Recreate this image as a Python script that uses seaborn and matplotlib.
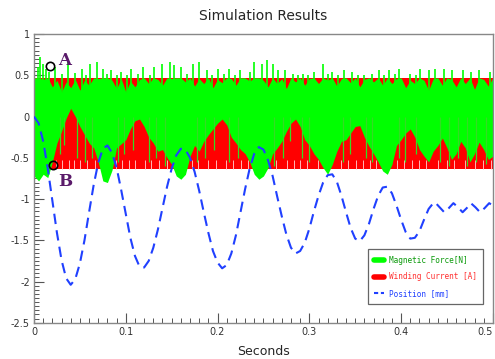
import numpy as np
import matplotlib
matplotlib.use("Agg")
import matplotlib.pyplot as plt
import seaborn as sns
import pandas as pd
from matplotlib.lines import Line2D
import matplotlib.ticker as ticker

sns.set_theme(style="white")
plt.rcParams["font.family"] = ["DejaVu Sans"]

# -------------------------
# Data
# -------------------------
# sampling instants of the force envelopes (s)
FORCE_T = np.linspace(0, 0.5, 101)

# green band: lower / upper edge of the dense magnetic-force trace
FORCE_LOW = [
    -0.72, -0.78, -0.70, -0.74, -0.55, -0.32, -0.18, -0.02, 0.10, 0.00,
    -0.12, -0.22, -0.32, -0.38, -0.55, -0.78, -0.80, -0.65, -0.38, -0.33,
    -0.28, -0.15, -0.05, -0.03, -0.12, -0.25, -0.32, -0.42, -0.40, -0.50,
    -0.58, -0.72, -0.76, -0.70, -0.48, -0.35, -0.42, -0.30, -0.22, -0.15,
    -0.08, -0.03, -0.10, -0.25, -0.32, -0.40, -0.45, -0.55, -0.70, -0.76,
    -0.72, -0.62, -0.45, -0.38, -0.30, -0.18, -0.08, -0.03, -0.12, -0.28,
    -0.35, -0.45, -0.52, -0.62, -0.70, -0.58, -0.42, -0.30, -0.28, -0.20,
    -0.12, -0.11, -0.25, -0.36, -0.45, -0.55, -0.66, -0.70, -0.58, -0.35,
    -0.28, -0.20, -0.15, -0.25, -0.40, -0.48, -0.55, -0.42, -0.35, -0.26,
    -0.38, -0.52, -0.45, -0.30, -0.38, -0.55, -0.45, -0.31, -0.40, -0.52,
    -0.48,
]
FORCE_HIGH = [
    0.47, 0.47, 0.45, 0.47, 0.36, 0.44, 0.30, 0.42, 0.35, 0.45,
    0.32, 0.44, 0.38, 0.47, 0.46, 0.47, 0.47, 0.44, 0.34, 0.46,
    0.30, 0.43, 0.36, 0.45, 0.47, 0.40, 0.47, 0.45, 0.38, 0.47,
    0.46, 0.47, 0.47, 0.42, 0.47, 0.37, 0.46, 0.40, 0.47, 0.35,
    0.45, 0.41, 0.47, 0.46, 0.38, 0.47, 0.47, 0.43, 0.47, 0.47,
    0.44, 0.36, 0.47, 0.40, 0.46, 0.34, 0.47, 0.42, 0.47, 0.38,
    0.46, 0.47, 0.40, 0.47, 0.44, 0.47, 0.37, 0.46, 0.47, 0.41,
    0.47, 0.36, 0.45, 0.47, 0.42, 0.47, 0.38, 0.47, 0.40, 0.46,
    0.47, 0.35, 0.44, 0.40, 0.47, 0.44, 0.32, 0.46, 0.47, 0.38,
    0.47, 0.45, 0.36, 0.47, 0.40, 0.47, 0.33, 0.47, 0.45, 0.37,
    0.47,
]

# force spikes poking above the band
SPIKE_T = [
    0.004, 0.007, 0.010, 0.013, 0.016, 0.023, 0.030, 0.037, 0.045, 0.052,
    0.057, 0.061, 0.069, 0.075, 0.080, 0.084, 0.090, 0.095, 0.101, 0.106,
    0.113, 0.119, 0.126, 0.131, 0.140, 0.148, 0.153, 0.160, 0.167, 0.173,
    0.180, 0.188, 0.194, 0.200, 0.207, 0.213, 0.219, 0.224, 0.235, 0.240,
    0.248, 0.254, 0.260, 0.266, 0.273, 0.282, 0.288, 0.293, 0.299, 0.305,
    0.315, 0.320, 0.325, 0.331, 0.338, 0.347, 0.353, 0.360, 0.368, 0.376,
    0.381, 0.387, 0.393, 0.398, 0.410, 0.416, 0.421, 0.430, 0.437, 0.447,
    0.456, 0.467, 0.476, 0.485, 0.497,
]
SPIKE_TOP = [
    0.60, 0.72, 0.64, 0.58, 0.54, 0.60, 0.52, 0.66, 0.53, 0.58,
    0.51, 0.64, 0.66, 0.58, 0.52, 0.56, 0.51, 0.54, 0.50, 0.58,
    0.52, 0.60, 0.51, 0.60, 0.64, 0.66, 0.62, 0.60, 0.52, 0.64,
    0.66, 0.56, 0.51, 0.58, 0.52, 0.58, 0.51, 0.56, 0.54, 0.66,
    0.64, 0.68, 0.64, 0.56, 0.56, 0.52, 0.50, 0.52, 0.51, 0.54,
    0.64, 0.52, 0.54, 0.51, 0.56, 0.54, 0.51, 0.50, 0.52, 0.56,
    0.51, 0.56, 0.52, 0.58, 0.52, 0.51, 0.58, 0.56, 0.58, 0.58,
    0.56, 0.56, 0.54, 0.56, 0.54,
]

# green streaks reaching down into the red area
DROP_T = [
    0.028, 0.033, 0.047, 0.056, 0.063, 0.092, 0.098, 0.108, 0.125, 0.133,
    0.143, 0.178, 0.186, 0.196, 0.212, 0.222, 0.262, 0.271, 0.279, 0.292,
    0.300, 0.337, 0.344, 0.362, 0.368, 0.398, 0.404, 0.416, 0.442, 0.452,
    0.462, 0.472, 0.482, 0.492,
]
DROP_BOTTOM = [
    -0.45, -0.35, -0.50, -0.55, -0.50, -0.55, -0.45, -0.40, -0.55, -0.50,
    -0.60, -0.55, -0.50, -0.40, -0.55, -0.50, -0.60, -0.50, -0.30, -0.50,
    -0.55, -0.55, -0.45, -0.50, -0.55, -0.50, -0.55, -0.45, -0.55, -0.60,
    -0.50, -0.60, -0.55, -0.58,
]

# pale streaks along the lower edge of the current band
PALE_T = [
    0.024, 0.031, 0.038, 0.044, 0.050, 0.058, 0.066, 0.089, 0.096, 0.103,
    0.110, 0.121, 0.128, 0.136, 0.145, 0.172, 0.179, 0.190, 0.198, 0.209,
    0.217, 0.226, 0.233, 0.264, 0.276, 0.283, 0.290, 0.297, 0.309, 0.335,
    0.342, 0.351, 0.358, 0.366, 0.373, 0.396, 0.403, 0.412, 0.420, 0.427,
    0.440, 0.450, 0.458, 0.470, 0.480, 0.489, 0.498,
]

# winding current switches between two levels (red band)
CURRENT_HIGH = 0.47
CURRENT_LOW = -0.63

# position trace (mm)
POS_T = [
    0.000, 0.005, 0.010, 0.015, 0.020, 0.025, 0.030, 0.035, 0.040, 0.045,
    0.050, 0.055, 0.060, 0.065, 0.070, 0.075, 0.080, 0.085, 0.090, 0.095,
    0.100, 0.105, 0.110, 0.115, 0.120, 0.125, 0.130, 0.135, 0.140, 0.145,
    0.150, 0.155, 0.160, 0.165, 0.170, 0.175, 0.180, 0.185, 0.190, 0.195,
    0.200, 0.205, 0.210, 0.215, 0.220, 0.225, 0.230, 0.235, 0.240, 0.245,
    0.250, 0.255, 0.260, 0.265, 0.270, 0.275, 0.280, 0.285, 0.290, 0.295,
    0.300, 0.305, 0.310, 0.315, 0.320, 0.325, 0.330, 0.335, 0.340, 0.345,
    0.350, 0.355, 0.360, 0.365, 0.370, 0.375, 0.380, 0.385, 0.390, 0.395,
    0.400, 0.405, 0.410, 0.415, 0.420, 0.425, 0.430, 0.435, 0.437, 0.442,
    0.447, 0.452, 0.457, 0.462, 0.467, 0.4715, 0.476, 0.481, 0.486, 0.491,
    0.496, 0.500,
]
POS_V = [
    0.00, -0.08, -0.30, -0.63, -1.02, -1.41, -1.74, -1.96, -2.04, -1.97,
    -1.78, -1.50, -1.16, -0.83, -0.56, -0.39, -0.35, -0.44, -0.62, -0.89,
    -1.18, -1.47, -1.69, -1.82, -1.83, -1.75, -1.59, -1.37, -1.11, -0.85,
    -0.63, -0.47, -0.39, -0.40, -0.50, -0.67, -0.90, -1.16, -1.41, -1.63,
    -1.77, -1.84, -1.80, -1.66, -1.44, -1.16, -0.88, -0.63, -0.45, -0.37,
    -0.40, -0.53, -0.72, -0.97, -1.21, -1.43, -1.59, -1.66, -1.63, -1.53,
    -1.36, -1.15, -0.96, -0.80, -0.71, -0.70, -0.79, -0.96, -1.16, -1.35,
    -1.48, -1.51, -1.44, -1.30, -1.12, -0.96, -0.86, -0.85, -0.93, -1.08,
    -1.25, -1.40, -1.48, -1.47, -1.39, -1.25, -1.12, -1.05, -1.04, -1.10,
    -1.16, -1.11, -1.05, -1.10, -1.16, -1.11, -1.05, -1.10, -1.16, -1.11,
    -1.05, -1.08,
]

# axis ticks
X_TICKS = [0, 0.1, 0.2, 0.3, 0.4, 0.5]
X_LABELS = ["0", "0.1", "0.2", "0.3", "0.4", "0.5"]
Y_TICKS = [-2.5, -2, -1.5, -1, -0.5, 0, 0.5, 1]
Y_LABELS = ["-2.5", "-2", "-1.5", "-1", "-0.5", "0", "0.5", "1"]

# marked points
MARK_A = (0.0174, 0.61)
MARK_B = (0.0203, -0.59)

GREEN = "#00ff00"
RED = "#ff0000"
BLUE = "#2040ff"

pos_df = pd.DataFrame({"t": POS_T, "pos": POS_V})

fig = plt.figure(figsize=(4.95, 3.59), dpi=100)
ax = fig.add_axes([0.0687, 0.101, 0.927, 0.804])

# winding current band
ax.fill_between([FORCE_T[0], FORCE_T[-1]], CURRENT_LOW, CURRENT_HIGH,
                color=RED, lw=0, zorder=1)
ax.vlines(PALE_T, CURRENT_LOW, CURRENT_LOW + 0.1, color="#ffb8b8", lw=0.7,
          zorder=1.5)

# magnetic force band
ax.fill_between(FORCE_T, FORCE_LOW, FORCE_HIGH, color=GREEN, lw=0, zorder=2)
ax.vlines(SPIKE_T, 0.3, SPIKE_TOP, color=GREEN, lw=1.2, zorder=2)
ax.vlines(DROP_T, 0.0, DROP_BOTTOM, color="#33dd22", lw=0.9, zorder=2)

# position
sns.lineplot(data=pos_df, x="t", y="pos", ax=ax, color=BLUE, lw=1.5,
             zorder=3)
ax.lines[-1].set_dashes((5, 3))

# A / B markers
for (mx, my), lab, ty in [(MARK_A, "A", 0.68), (MARK_B, "B", -0.79)]:
    ax.plot([mx], [my], "o", ms=6, mfc="none", mec="black", mew=1.2, zorder=4)
    ax.text(0.0335, ty, lab, family="DejaVu Serif", weight="bold",
            fontsize=12, color="#5a1a6a", ha="center", va="center", zorder=4)

ax.set_xlim(0, 0.5)
ax.set_ylim(-2.5, 1)
ax.set_xticks(X_TICKS, X_LABELS)
ax.set_yticks(Y_TICKS, Y_LABELS)
ax.xaxis.set_minor_locator(ticker.MultipleLocator(0.01))
ax.yaxis.set_minor_locator(ticker.MultipleLocator(0.05))
ax.tick_params(axis="both", which="major", direction="in", length=7,
               width=0.8, color="#555555", labelsize=7, pad=3,
               labelcolor="#333333")
ax.tick_params(axis="both", which="minor", direction="in", length=3.5,
               width=0.7, color="#555555")
ax.tick_params(left=True, bottom=True, which="both")
ax.get_xticklabels()[-1].set_horizontalalignment("right")
for s in ax.spines.values():
    s.set_color("#888888")
    s.set_linewidth(1.0)

ax.set_xlabel("Seconds", fontsize=9, labelpad=6)
ax.set_ylabel("")
ax.set_title("Simulation Results", fontsize=10, pad=10)

handles = [
    Line2D([], [], color=GREEN, lw=4),
    Line2D([], [], color=RED, lw=4),
    Line2D([], [], color=BLUE, lw=1.5, dashes=(2, 1.3)),
]
labels = ["Magnetic Force[N]", "Winding Current [A]", "Position [mm]"]
leg = ax.legend(handles, labels, loc="lower right",
                bbox_to_anchor=(0.988, 0.05), fancybox=False, framealpha=1,
                edgecolor="#666666",
                prop={"family": "DejaVu Sans Mono", "size": 5.6},
                handlelength=1.3, handletextpad=0.7, labelspacing=1.0,
                borderpad=0.8)
leg.get_frame().set_linewidth(0.9)
for txt, c in zip(leg.get_texts(), ["#0a9a0a", "#ff3030", "#2040ff"]):
    txt.set_color(c)

fig.savefig("out.png", dpi=100)
